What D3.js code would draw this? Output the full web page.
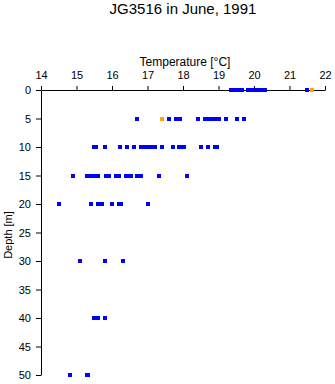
<!DOCTYPE html>
<html>
<head>
<meta charset="utf-8">
<script src="https://cdn.jsdelivr.net/npm/d3@7"></script>
<style>
  body { margin: 0; background: #fff; }
  text { font-family: "Liberation Sans", Arial, sans-serif; }
</style>
</head>
<body>
<div id="chart"></div>
<script>
// Depth levels [m] and the temperatures measured at each one [°C]
const depths = [0, 5, 10, 15, 20, 30, 40, 50];
const tempsAt0 = [19.35, 19.42, 19.5, 19.58, 19.65, 19.82, 19.9, 19.98, 20.05, 20.12, 20.2, 20.3, 21.5];
const tempsAt5 = [16.71, 17.61, 17.8, 17.92, 18.43, 18.62, 18.68, 18.74, 18.83, 18.93, 19.02, 19.22, 19.53, 19.73];
const tempsAt10 = [15.5, 15.55, 15.81, 16.22, 16.42, 16.63, 16.83, 16.92, 17.0, 17.07, 17.13, 17.2, 17.42, 17.73, 17.9, 17.95, 18.03, 18.52, 18.71, 18.91, 18.95];
const tempsAt15 = [14.91, 15.3, 15.4, 15.47, 15.53, 15.6, 15.82, 15.92, 16.11, 16.2, 16.39, 16.47, 16.53, 16.71, 16.83, 17.33, 18.12];
const tempsAt20 = [14.52, 15.42, 15.61, 15.73, 16.01, 16.2, 16.24, 17.02];
const tempsAt30 = [15.11, 15.81, 16.32];
const tempsAt40 = [15.5, 15.55, 15.61, 15.81];
const tempsAt50 = [14.83, 15.29, 15.33];
const blueTemps = [tempsAt0, tempsAt5, tempsAt10, tempsAt15, tempsAt20, tempsAt30, tempsAt40, tempsAt50];

// Highlighted (orange) readings
const orangeDepths = [0, 5];
const orangeTemps = [21.63, 17.42];

const xTicks = [14, 15, 16, 17, 18, 19, 20, 21, 22];
const yTicks = [0, 5, 10, 15, 20, 25, 30, 35, 40, 45, 50];

const width = 335, height = 384;
const margin = { top: 90, right: 10, bottom: 9, left: 41 };

const x = d3.scaleLinear().domain([14, 22]).range([margin.left, width - margin.right]);
const y = d3.scaleLinear().domain([0, 50]).range([margin.top, height - margin.bottom]);

const svg = d3.select("#chart").append("svg")
    .attr("width", width)
    .attr("height", height);

// Title
svg.append("text")
    .attr("x", 183)
    .attr("y", 14)
    .attr("text-anchor", "middle")
    .style("font-size", "15px")
    .text("JG3516 in June, 1991");

// Axes
svg.append("g")
    .attr("transform", `translate(0,${margin.top})`)
    .call(d3.axisTop(x).tickValues(xTicks).tickFormat(d3.format("d")).tickSize(4).tickSizeOuter(0).tickPadding(7));

svg.append("g")
    .attr("transform", `translate(${margin.left},0)`)
    .call(d3.axisLeft(y).tickValues(yTicks).tickSize(5).tickSizeOuter(0).tickPadding(5));

svg.selectAll(".tick text")
    .style("font-size", "11px")
    .attr("fill", "#000");

svg.append("text")
    .attr("x", 185)
    .attr("y", 66)
    .attr("text-anchor", "middle")
    .style("font-size", "12px")
    .text("Temperature [°C]");

svg.append("text")
    .attr("transform", `translate(12,235) rotate(-90)`)
    .attr("text-anchor", "middle")
    .style("font-size", "11px")
    .text("Depth [m]");

// Points
const pts = [];
depths.forEach((d, i) => blueTemps[i].forEach(t => pts.push({ depth: d, temp: t })));

const s = 4;
svg.append("g").selectAll("rect.blue")
    .data(pts)
    .enter()
    .append("rect")
    .attr("class", "blue")
    .attr("x", d => Math.round(x(d.temp)) - s / 2)
    .attr("y", d => Math.round(y(d.depth)) - s / 2)
    .attr("width", s)
    .attr("height", s)
    .attr("fill", "#0000ff");

svg.append("g").selectAll("rect.orange")
    .data(orangeDepths.map((d, i) => ({ depth: d, temp: orangeTemps[i] })))
    .enter()
    .append("rect")
    .attr("class", "orange")
    .attr("x", d => Math.round(x(d.temp)) - s / 2)
    .attr("y", d => Math.round(y(d.depth)) - s / 2)
    .attr("width", s)
    .attr("height", s)
    .attr("fill", "#ffa500");
</script>
</body>
</html>
